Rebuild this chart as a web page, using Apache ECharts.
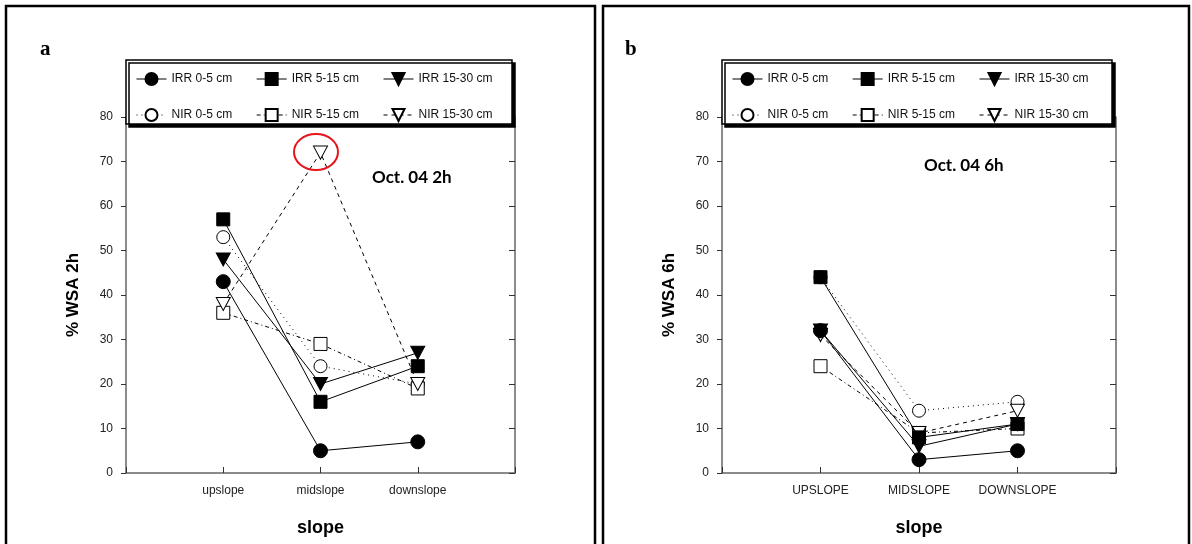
<!DOCTYPE html>
<html>
<head>
<meta charset="utf-8">
<script src="https://cdn.jsdelivr.net/npm/echarts@6/dist/echarts.min.js"></script>
<style>
  html, body { margin: 0; padding: 0; background: #fff; }
  #main { width: 1192px; height: 544px; }
</style>
</head>
<body>
<div id="main"></div>
<script>
// tick labels for the two panels
const slopeA = ['upslope', 'midslope', 'downslope'];
const slopeB = ['UPSLOPE', 'MIDSLOPE', 'DOWNSLOPE'];

const names = ['IRR 0-5 cm', 'IRR 5-15 cm', 'IRR 15-30 cm', 'NIR 0-5 cm', 'NIR 5-15 cm', 'NIR 15-30 cm'];

// panel a: % WSA after 2h
const irr05_2h = [43, 5, 7];
const irr515_2h = [57, 16, 24];
const irr1530_2h = [48, 20, 27];
const nir05_2h = [53, 24, 20];
const nir515_2h = [36, 29, 19];
const nir1530_2h = [38, 72, 20];

// panel b: % WSA after 6h
const irr05_6h = [32, 3, 5];
const irr515_6h = [44, 8, 11];
const irr1530_6h = [32, 6, 11];
const nir05_6h = [44, 14, 16];
const nir515_6h = [24, 9, 10];
const nir1530_6h = [31, 9, 14];

const downTri = 'path://M0,0L10,0L5,9Z';
const styles = [
    { symbol: 'circle', size: 14, fill: '#000', line: 'solid' },
    { symbol: 'rect', size: 13, fill: '#000', line: 'solid' },
    { symbol: downTri, size: [14, 13], fill: '#000', line: 'solid' },
    { symbol: 'circle', size: 13, fill: '#fff', line: [1, 4] },
    { symbol: 'rect', size: 13, fill: '#fff', line: [4, 3, 1, 3] },
    { symbol: downTri, size: [14, 13], fill: '#fff', line: [4, 4] }
];

function makeSeries(arrs, idx) {
    return arrs.map((arr, i) => ({
        name: names[i],
        type: 'line',
        xAxisIndex: idx,
        yAxisIndex: idx * 2,
        data: arr.map((v, k) => [k + 1, v]),
        symbol: styles[i].symbol,
        symbolSize: styles[i].size,
        showAllSymbol: true,
        animation: false,
        z: i < 3 ? 3 : 2,
        lineStyle: { color: '#000', width: 1, type: styles[i].line },
        itemStyle: { color: styles[i].fill, borderColor: '#000', borderWidth: 1 }
    }));
}

const grids = [
    { left: 126, top: 117, width: 389, height: 356 },
    { left: 722, top: 117, width: 394, height: 356 }
];

function xAxis(idx, labels) {
    return {
        type: 'value', gridIndex: idx, min: 0, max: 4, interval: 1,
        axisLine: { lineStyle: { color: '#666', width: 1.5 } },
        axisTick: { inside: true, length: 6, lineStyle: { color: '#333' } },
        axisLabel: {
            margin: 12, fontFamily: 'Arial', fontSize: 12, color: '#222',
            formatter: v => labels[v - 1] || ''
        },
        splitLine: { show: false },
        name: 'slope', nameLocation: 'middle', nameGap: 46,
        nameTextStyle: { fontFamily: 'Arial', fontWeight: 'bold', fontSize: 18, color: '#000' }
    };
}

function yAxes(idx, title) {
    const base = {
        type: 'value', gridIndex: idx, min: 0, max: 80, interval: 10,
        splitLine: { show: false },
        axisLine: { show: true, lineStyle: { color: '#666', width: 1.5 } }
    };
    return [
        Object.assign({}, base, {
            position: 'left',
            axisTick: { length: 5, lineStyle: { color: '#333' } },
            axisLabel: { margin: 13, fontFamily: 'Arial', fontSize: 12, color: '#222' },
            name: title, nameLocation: 'middle', nameGap: 44, nameRotate: 90,
            nameTextStyle: { fontFamily: 'Arial', fontWeight: 'bold', fontSize: 17, color: '#000' }
        }),
        Object.assign({}, base, {
            position: 'right',
            axisTick: { inside: true, length: 6, lineStyle: { color: '#333' } },
            axisLabel: { show: false }
        })
    ];
}

function legendRow(left, top, data) {
    return {
        left: left, top: top, data: data, orient: 'horizontal',
        itemWidth: 30, itemHeight: 15, itemGap: 24,
        selectedMode: false, z: 12,
        lineStyle: { width: 1 },
        textStyle: { fontFamily: 'Arial', fontSize: 12, color: '#111' }
    };
}

function legendBox(x, w) {
    return {
        type: 'rect', z: 10,
        shape: { x: x, y: 60, width: w, height: 64 },
        style: { fill: '#fff', stroke: '#000', lineWidth: 1.5, shadowColor: '#000', shadowOffsetX: 3, shadowOffsetY: 3 }
    };
}

function label(x, y, text, font) {
    return { type: 'text', x: x, y: y, z: 10, style: { text: text, font: font, fill: '#000', textVerticalAlign: 'middle' } };
}

const chart = echarts.init(document.getElementById('main'));

chart.setOption({
    animation: false,
    backgroundColor: '#fff',
    grid: grids,
    xAxis: [xAxis(0, slopeA), xAxis(1, slopeB)],
    yAxis: yAxes(0, '% WSA 2h').concat(yAxes(1, '% WSA 6h')),
    legend: [
        legendRow(131, 67, names.slice(0, 3)),
        legendRow(131, 103, names.slice(3)),
        legendRow(727, 67, names.slice(0, 3)),
        legendRow(727, 103, names.slice(3))
    ],
    graphic: [
        { type: 'rect', shape: { x: 6, y: 6, width: 589, height: 560 }, style: { fill: 'none', stroke: '#000', lineWidth: 2.5 } },
        { type: 'rect', shape: { x: 603, y: 6, width: 586, height: 560 }, style: { fill: 'none', stroke: '#000', lineWidth: 2.5 } },
        label(40, 50, 'a', 'bold 21px "Liberation Serif"'),
        label(625, 50, 'b', 'bold 21px "Liberation Serif"'),
        legendBox(126, 386),
        legendBox(722, 390),
        label(372, 178, 'Oct. 04 2h', 'bold 17px Lato'),
        label(924, 166, 'Oct. 04 6h', 'bold 17px Lato'),
        {
            type: 'ellipse', z: 10,
            shape: { cx: 316, cy: 152, rx: 22, ry: 18 },
            style: { fill: 'none', stroke: '#e8141c', lineWidth: 2 }
        }
    ],
    series: makeSeries([irr05_2h, irr515_2h, irr1530_2h, nir05_2h, nir515_2h, nir1530_2h], 0)
        .concat(makeSeries([irr05_6h, irr515_6h, irr1530_6h, nir05_6h, nir515_6h, nir1530_6h], 1))
});
</script>
</body>
</html>
